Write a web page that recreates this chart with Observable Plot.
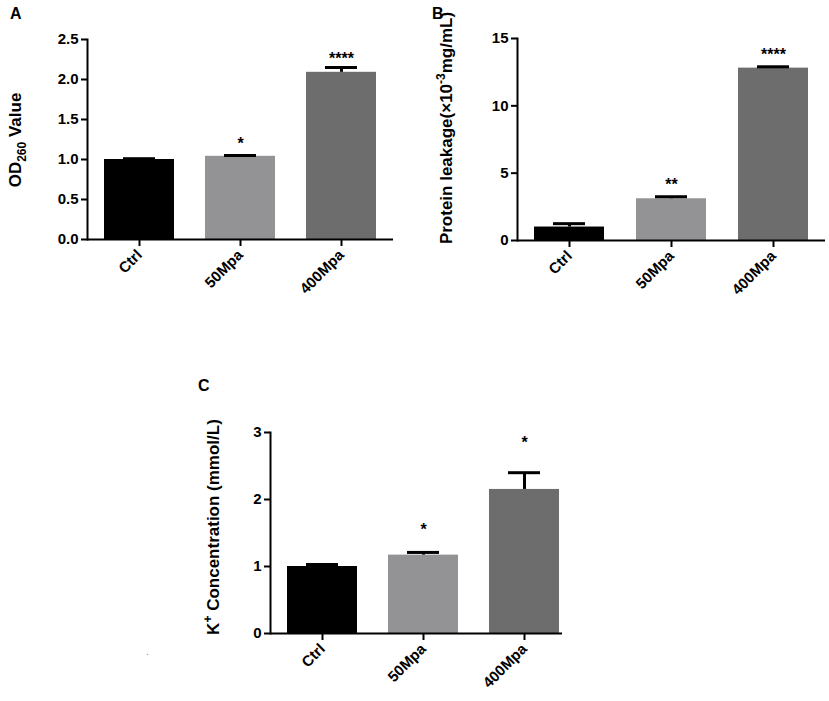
<!DOCTYPE html>
<html>
<head>
<meta charset="utf-8">
<script src="https://cdn.jsdelivr.net/npm/d3@7"></script>
<script src="https://cdn.jsdelivr.net/npm/@observablehq/plot@0.6"></script>
<style>
  body { margin: 0; background: #fff; }
  #root { position: relative; width: 829px; height: 701px; background: #fff; overflow: hidden;
          font-family: "Liberation Sans", Arial, sans-serif; font-weight: bold; }
  .panel { position: absolute; }
  .tag { position: absolute; font-size: 16px; font-weight: bold; color: #000; }
</style>
</head>
<body>
<div id="root"></div>
<script>
// ---- data ----
const categories = ["Ctrl", "50Mpa", "400Mpa"];
const barColors = ["#000000", "#939396", "#6d6d6d"];

const odMean = [1.00, 1.04, 2.09];
const odErr = [0.01, 0.01, 0.06];
const odStars = ["", "*", "****"];
const odStarY = [null, 1.25, 2.31];
const odTicks = [0, 0.5, 1.0, 1.5, 2.0, 2.5];

const protMean = [1.0, 3.1, 12.8];
const protErr = [0.25, 0.15, 0.1];
const protStars = ["", "**", "****"];
const protStarY = [null, 4.45, 14.1];
const protTicks = [0, 5, 10, 15];

const kMean = [1.0, 1.17, 2.15];
const kErr = [0.03, 0.04, 0.25];
const kStars = ["", "*", "*"];
const kStarY = [null, 1.6, 2.91];
const kTicks = [0, 1, 2, 3];

function rows(mean, err, stars, starY) {
  return categories.map((c, i) => ({cat: c, mean: mean[i], top: mean[i] + err[i], star: stars[i], starY: starY[i]}));
}

const font = '"Liberation Sans", Arial, sans-serif';

function panel(data, o) {
  const p = Plot.plot({
    width: o.width, height: o.height,
    marginLeft: o.ml, marginRight: o.mr, marginTop: o.mt, marginBottom: o.mb,
    style: {fontFamily: font, fontWeight: "bold", fontSize: "14px", background: "white", color: "black", overflow: "visible"},
    x: {domain: categories, paddingInner: o.pi, paddingOuter: o.po, align: o.align, label: null},
    y: {domain: o.ydomain, label: null},
    color: {domain: categories, range: barColors},
    marks: [
      Plot.barY(data, {x: "cat", y: "mean", fill: "cat"}),
      Plot.ruleX(data, {x: "cat", y1: "mean", y2: "top", strokeWidth: 3, stroke: "black"}),
      Plot.tickY(data, {x: "cat", y: "top", strokeWidth: 3, stroke: "black", insetLeft: 19, insetRight: 19}),
      Plot.text(data, {x: "cat", y: "starY", text: "star", fontSize: 16, fontWeight: "bold", dy: 4}),
      Plot.ruleY([0], {strokeWidth: 2, stroke: "black"}),
      Plot.frame({anchor: "left", strokeWidth: 2, stroke: "black"}),
      Plot.axisY({ticks: o.ticks, tickFormat: o.fmt, tickSize: 6, tickPadding: 3, strokeWidth: 2, fontSize: 15, label: null}),
      Plot.axisX({tickRotate: -45, tickSize: 7, tickPadding: 6, strokeWidth: 2, fontSize: 15, label: null})
    ]
  });
  p.classList.add("panel");
  p.style.left = o.left + "px";
  p.style.top = o.top + "px";
  document.getElementById("root").appendChild(p);
  return p;
}

function yTitle(svg, x, y, parts) {
  const t = d3.select(svg).append("text")
    .attr("transform", `translate(${x},${y}) rotate(-90)`)
    .attr("text-anchor", "middle")
    .attr("font-family", font)
    .attr("font-weight", "bold")
    .attr("font-size", 17)
    .attr("fill", "black");
  parts.forEach(([txt, dy, fs]) => {
    const s = t.append("tspan").text(txt);
    if (dy) s.attr("dy", dy);
    if (fs) s.attr("font-size", fs);
  });
}

// Panel A
const svgA = panel(rows(odMean, odErr, odStars, odStarY), {
  left: 0, top: 0, width: 410, height: 330, ml: 87, mr: 17, mt: 39, mb: 91,
  pi: 0.305, po: 0.16, align: 0.49, ydomain: [0, 2.5], ticks: odTicks, fmt: ".1f"
});
yTitle(svgA, 21, 140, [["OD"], ["260", 5, 12], [" Value", -5]]);

// Panel B
const svgB = panel(rows(protMean, protErr, protStars, protStarY), {
  left: 420, top: 0, width: 409, height: 330, ml: 97, mr: 4, mt: 38, mb: 90,
  pi: 0.31, po: 0.158, align: 0.5, ydomain: [0, 15], ticks: protTicks, fmt: "d"
});
yTitle(svgB, 32, 128, [["Protein leakage(×10"], ["-3", -7, 12], ["mg/mL)", 7]]);

// Panel C
const svgC = panel(rows(kMean, kErr, kStars, kStarY), {
  left: 180, top: 370, width: 400, height: 331, ml: 90, mr: 18, mt: 62, mb: 68,
  pi: 0.305, po: 0.091, align: 0.86, ydomain: [0, 3], ticks: kTicks, fmt: "d"
});
yTitle(svgC, 39, 157, [["K"], ["+", -7, 12], [" Concentration (mmol/L)", 7]]);

// panel tags
const root = document.getElementById("root");
[["A", 10, 5], ["B", 432, 5], ["C", 198, 377]].forEach(([s, x, y]) => {
  const d = document.createElement("div");
  d.className = "tag"; d.textContent = s;
  d.style.left = x + "px"; d.style.top = y + "px";
  root.appendChild(d);
});
const dot = document.createElement("div");
dot.className = "tag"; dot.textContent = ".";
dot.style.left = "146px"; dot.style.top = "646px"; dot.style.fontSize = "10px"; dot.style.color = "#888"; dot.style.fontWeight = "normal";
root.appendChild(dot);
</script>
</body>
</html>
